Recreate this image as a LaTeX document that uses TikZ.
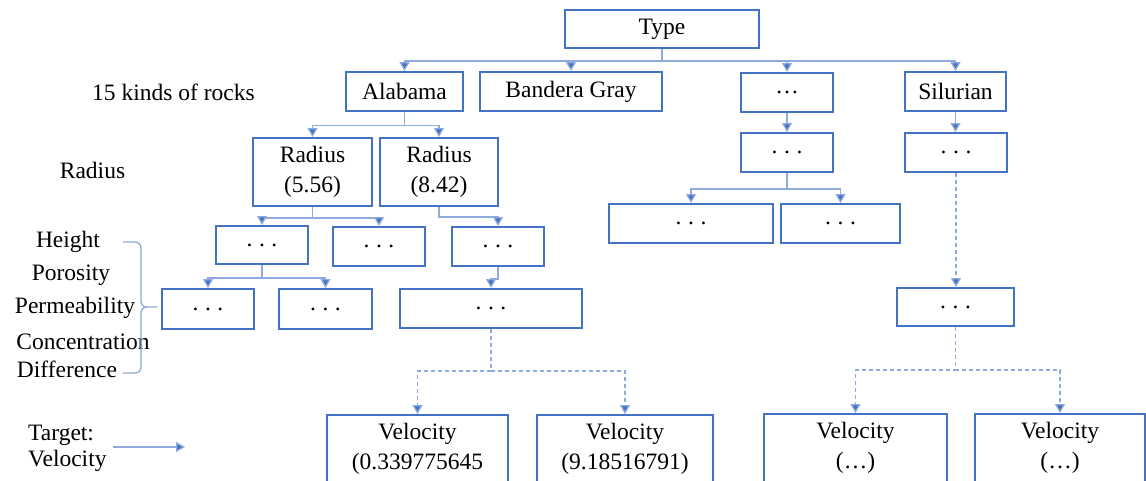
\documentclass[tikz,border=0pt]{standalone}
\usepackage{fontspec}
\setmainfont{Liberation Serif}
\usetikzlibrary{arrows.meta}
\definecolor{boxblue}{HTML}{4472C4}
\definecolor{lineblue}{HTML}{8FAADC}
\begin{document}
\begin{tikzpicture}[x=1pt,y=-1pt,
  every node/.style={font=\fontsize{23.5}{30}\selectfont, text=black},
  box/.style={draw=boxblue, line width=2pt, inner sep=0pt, align=center, fill=white},
  conn/.style={draw=lineblue, line width=1.3pt, -{Triangle[length=9pt,width=10pt,fill=boxblue]}},
  dconn/.style={conn, dash pattern=on 4pt off 3pt},
  lbl/.style={anchor=base, inner sep=0pt}
]
\useasboundingbox (0,0) rectangle (1146,480);
\clip (0,0) rectangle (1146,480);
\newcommand{\sdots}{.\hspace{0.28em}.\hspace{0.28em}.}

% left labels
\node[lbl] (lrocks) at (173.5,100) {15 kinds of rocks};
\node[lbl] (lradius) at (92.5,178) {Radius};
\node[lbl] (lheight) at (68,247) {Height};
\node[lbl] (lporo) at (71,280) {Porosity};
\node[lbl] (lperm) at (75,313) {Permeability};
\node[lbl] (lconc) at (83,349) {Concentration};
\node[lbl] (ldiff) at (67,377) {Difference};
\node[lbl, anchor=base west] (ltarget) at (28,440) {Target:};
\node[lbl, anchor=base west] (lvel) at (28,466) {Velocity};

% boxes
\node[box, minimum width=194pt, minimum height=38pt] (type) at (662,29) {Type};
\node[box, minimum width=117pt, minimum height=39pt] (alabama) at (404.5,91.5) {Alabama};
\node[box, minimum width=182pt, minimum height=39pt] (bandera) at (571,91.5) {Bandera Gray};
\node[box, minimum width=92pt, minimum height=39pt] (rockdots) at (787,92.5) {…};
\node[box, minimum width=101pt, minimum height=39pt] (silurian) at (955.5,91.5) {Silurian};

\node[box, minimum width=119pt, minimum height=68pt] (r1) at (312.5,172) {Radius\\(5.56)};
\node[box, minimum width=118pt, minimum height=68pt] (r2) at (439,172) {Radius\\(8.42)};

\node[box, minimum width=92pt, minimum height=38pt] (a3) at (262,245) {\sdots};
\node[box, minimum width=92pt, minimum height=39pt] (b3) at (379,246.5) {\sdots};
\node[box, minimum width=92pt, minimum height=39pt] (c3) at (498,246.5) {\sdots};

\node[box, minimum width=92pt, minimum height=40pt] (d4) at (208,309) {\sdots};
\node[box, minimum width=93pt, minimum height=40pt] (e4) at (325.5,309) {\sdots};
\node[box, minimum width=182pt, minimum height=39pt] (f4) at (491,308.5) {\sdots};

\node[box, minimum width=92pt, minimum height=39pt] (rd2) at (787,152.5) {\sdots};
\node[box, minimum width=164pt, minimum height=39pt] (g3) at (691,223.5) {\sdots};
\node[box, minimum width=119pt, minimum height=39pt] (h3) at (840.5,223.5) {\sdots};

\node[box, minimum width=102pt, minimum height=39pt] (s2) at (956,152.5) {\sdots};
\node[box, minimum width=117pt, minimum height=38pt] (s3) at (955.5,307) {\sdots};

\node[box, minimum width=181pt, minimum height=68pt] (v1) at (417.5,449) {Velocity\\(0.339775645};
\node[box, minimum width=176pt, minimum height=68pt] (v2) at (625,449) {Velocity\\(9.18516791)};
\node[box, minimum width=183pt, minimum height=68pt] (v3) at (855.5,448) {Velocity\\(…)};
\node[box, minimum width=170pt, minimum height=68pt] (v4) at (1060,448) {Velocity\\(…)};

% connectors
\foreach \c in {alabama,bandera,rockdots,silurian}
  \draw[conn] (type.south) -- ++(0,12) -| (\c.north);
\foreach \c in {r1,r2}
  \draw[conn] (alabama.south) -- ++(0,13.5) -| (\c.north);
\foreach \c in {a3,b3}
  \draw[conn] (r1.south) -- ++(0,11) -| (\c.north);
\draw[conn] (r2.south) -- ++(0,10) -| (c3.north);
\foreach \c in {d4,e4}
  \draw[conn] (a3.south) -- ++(0,13) -| (\c.north);
\draw[conn] (c3.south) -- ++(0,12) -| (f4.north);
\foreach \c in {v1,v2}
  \draw[dconn] (f4.south) -- ++(0,42) -| (\c.north);
\draw[conn] (rockdots.south) -- (rd2.north);
\foreach \c in {g3,h3}
  \draw[conn] (rd2.south) -- ++(0,16) -| (\c.north);
\draw[conn] (silurian.south) -- (silurian.south |- s2.north);
\draw[dconn] (s2.south) -- (s2.south |- s3.north);
\foreach \c in {v3,v4}
  \draw[dconn] (s3.south) -- ++(0,43) -| (\c.north);

% target arrow
\coordinate (tgtA) at (113,447);
\coordinate (tgtB) at (185,447);
\draw[conn] (tgtA) -- (tgtB);

% brace
\coordinate (brtop) at (123,242);
\coordinate (brbot) at (123,373);
\coordinate (brtip) at (157,307);
\draw[lineblue, line width=1.3pt] (brtop) -- (134,242) .. controls (139,242) and (141,244) .. (141,249)
  -- (141,300) .. controls (141,305) and (143,307) .. (147,307) -- (brtip);
\draw[lineblue, line width=1.3pt] (147,307) .. controls (143,307) and (141,309) .. (141,314)
  -- (141,366) .. controls (141,371) and (139,373) .. (134,373) -- (brbot);
\end{tikzpicture}
\end{document}
